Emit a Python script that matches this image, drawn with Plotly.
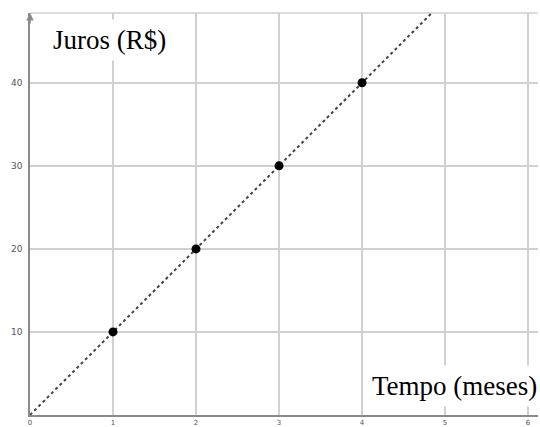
import plotly.graph_objects as go

# data
meses = [1, 2, 3, 4]
juros = [10, 20, 30, 40]
reta_x = [0, 5]
reta_y = [0, 50]
x_ticks = [0, 1, 2, 3, 4, 5, 6]
y_ticks = [10, 20, 30, 40]

grid = "#d0d0d0"
eixo = "#8a8a8a"

fig = go.Figure()
# dotted line y = 10x
fig.add_trace(go.Scatter(x=reta_x, y=reta_y, mode="lines",
                         line=dict(color="#444444", width=2, dash="dot"),
                         hoverinfo="skip"))
fig.add_trace(go.Scatter(x=meses, y=juros, mode="markers",
                         marker=dict(color="black", size=9)))

fig.update_xaxes(range=[0, 6.12], tickvals=x_ticks,
                 ticktext=[str(v) for v in x_ticks],
                 showgrid=True, gridcolor=grid, gridwidth=1.5,
                 showline=True, linecolor=eixo, linewidth=1.5,
                 zeroline=False, ticks="", ticklabelstandoff=0,
                 automargin=False,
                 tickfont=dict(family="DejaVu Sans", size=7, color="#555555"))
fig.update_yaxes(range=[0, 48.4], tickvals=y_ticks,
                 ticktext=[str(v) for v in y_ticks],
                 showgrid=True, gridcolor=grid, gridwidth=1.5,
                 showline=True, linecolor=eixo, linewidth=1.5,
                 zeroline=False, ticks="", ticklabelstandoff=4,
                 automargin=False,
                 tickfont=dict(family="DejaVu Sans", size=9, color="#555555"))

# top border line, like a grid line
fig.add_shape(type="line", xref="paper", yref="paper", x0=0, x1=1, y0=1, y1=1,
              line=dict(color=grid, width=1.5), layer="below")

# axis labels as boxed text
fig.add_annotation(x=0.96, y=45.1, text="Juros (R$)", showarrow=False,
                   font=dict(family="Liberation Serif", size=27, color="black"),
                   bgcolor="white", borderpad=5)
fig.add_annotation(x=5.12, y=3.5, text="Tempo (meses)",
                   showarrow=False,
                   font=dict(family="Liberation Serif", size=27, color="black"),
                   bgcolor="white", borderpad=5)
# arrow head on the y axis
fig.add_annotation(x=0, y=48.4, ax=0, ay=12, text="", showarrow=True,
                   arrowhead=2, arrowsize=1, arrowwidth=1.5, arrowcolor=eixo)

fig.update_layout(width=540, height=427, showlegend=False,
                  plot_bgcolor="white", paper_bgcolor="white",
                  margin=dict(l=30, r=2, t=13, b=12))
# drop the page's default 8px body margin so the figure fills the window
fig.write_html("out.html", config={"displayModeBar": False},
               post_script="document.body.style.margin='0';"
                           "document.body.style.overflow='hidden';")
